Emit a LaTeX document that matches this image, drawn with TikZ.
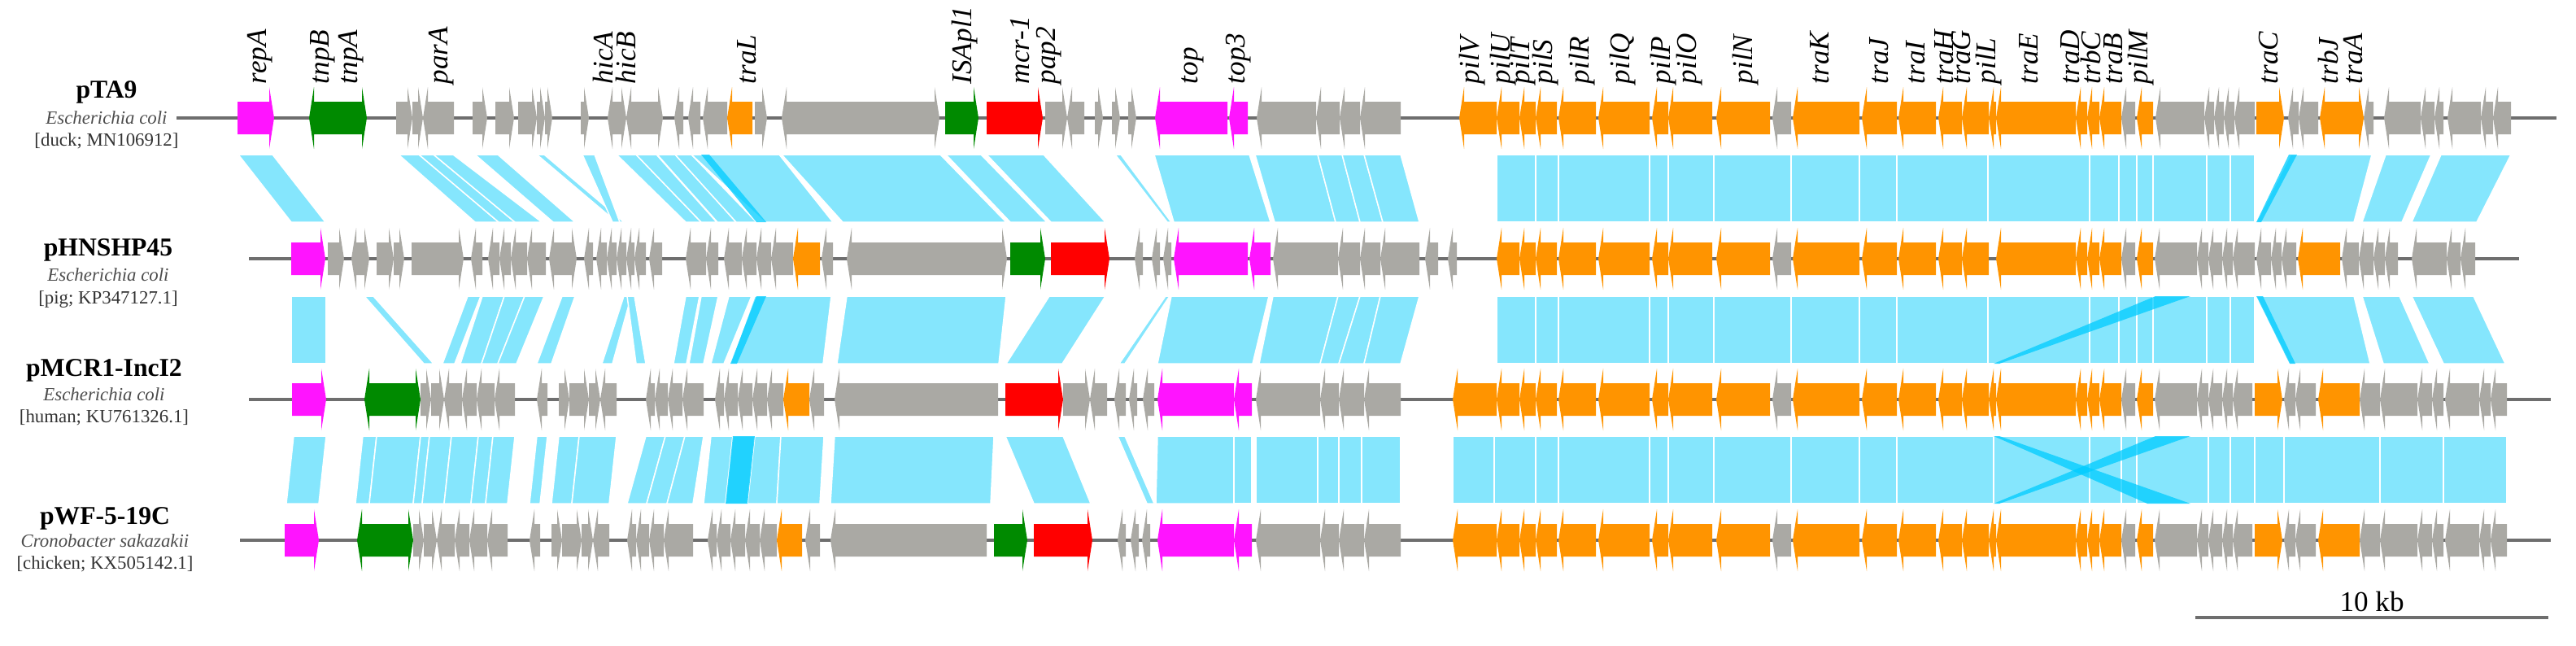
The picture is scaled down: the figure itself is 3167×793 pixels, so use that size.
\documentclass[tikz,border=0pt]{standalone}
\usepackage{fontspec}
\setmainfont{Liberation Serif}

\definecolor{genegray}{RGB}{170,169,164}
\definecolor{geneorange}{RGB}{255,148,0}
\definecolor{genepink}{RGB}{255,20,255}
\definecolor{genegreen}{RGB}{0,138,0}
\definecolor{genered}{RGB}{255,0,0}
\definecolor{bandblue}{RGB}{133,230,253}
\definecolor{banddark}{RGB}{0,204,255}
\definecolor{spinegray}{RGB}{110,110,110}

\newcommand{\gene}[5]{%
  \pgfmathsetmacro\gtip{#4>0 ? #3 : #2}%
  \pgfmathsetmacro\gbase{#4>0 ? #2 : #3}%
  \pgfmathsetmacro\ghead{\gtip-(#4)*6}%
  \fill[#5] (\gbase,#1-20) -- (\ghead,#1-20) -- (\ghead,#1-38) -- (\gtip,#1)
    -- (\ghead,#1+38) -- (\ghead,#1+20) -- (\gbase,#1+20) -- cycle;}
\newcommand{\band}[6]{\fill[simband] (#3,#1) -- (#4,#1) -- (#6,#2) -- (#5,#2) -- cycle;}
\newcommand{\invband}[6]{\fill[darkband] (#3,#1) -- (#4,#1) -- (#6,#2) -- (#5,#2) -- cycle;}

\newcommand{\tracluster}{1840/1868/-1/geneorange, 1868/1888/-1/geneorange, 1888/1914/-1/geneorange,
  1916/1962/-1/geneorange, 1965/2028/-1/geneorange, 2031/2051/-1/geneorange, 2051/2105/-1/geneorange,
  2110/2176/-1/geneorange, 2179/2202/-1/genegray, 2204/2286/-1/geneorange, 2289/2332/-1/geneorange,
  2334/2380/-1/geneorange, 2383/2412/-1/geneorange, 2412/2445/-1/geneorange, 2454/2552/-1/geneorange,
  2552/2566/-1/geneorange, 2566/2581/-1/geneorange, 2581/2608/-1/geneorange, 2608/2625/-1/genegray,
  2627/2647/-1/geneorange}
\newcommand{\righttail}{2649/2701/-1/genegray, 2701/2715/-1/genegray, 2715/2732/-1/genegray,
  2732/2745/-1/genegray, 2745/2769/-1/genegray, 2772/2806/1/geneorange, 2808/2822/-1/genegray,
  2822/2847/-1/genegray, 2850/2901/-1/geneorange, 2901/2926/-1/genegray, 2926/2972/-1/genegray,
  2972/2990/-1/genegray, 2990/3004/-1/genegray, 3006/3048/-1/genegray, 3048/3062/-1/genegray,
  3062/3082/-1/genegray, 1544/1623/-1/genegray, 1623/1646/-1/genegray, 1646/1677/-1/genegray,
  1677/1722/-1/genegray, 1786/1840/-1/geneorange, 2445/2454/-1/geneorange}
\newcommand{\straightcut}{1840/1888, 1888/1916, 1916/2028, 2028/2051, 2051/2107, 2107/2202, 2202/2286,
  2286/2332, 2332/2444, 2444/2569, 2569/2605, 2605/2627, 2627/2647, 2647/2713, 2713/2742, 2742/2772}

\begin{document}
\begin{tikzpicture}[x=0.1mm, y=-0.1mm,
  simband/.style={fill=bandblue, draw=white, line width=0.15mm},
  darkband/.style={fill=banddark, opacity=0.75},
  spine/.style={draw=spinegray, line width=0.4mm},
  genelabel/.style={rotate=90, anchor=west, inner sep=0pt, font=\fontsize{10}{12}\selectfont\itshape},
  plasname/.style={inner sep=0pt, font=\fontsize{9}{10}\selectfont\bfseries},
  plashost/.style={inner sep=0pt, text=black!70, font=\fontsize{6.5}{8}\selectfont\itshape},
  plasacc/.style={inner sep=0pt, text=black!80, font=\fontsize{6.5}{8}\selectfont}]
  \useasboundingbox (0,0) rectangle (3167,793);

  % pTA9 / pHNSHP45
  \foreach \a/\b/\p/\q in {293/335/358/400, 490/515/584/613, 515/533/613/633, 533/557/633/666,
    584/612/680/707, 660/669/758/767, 716/731/753/762, 758/782/843/862, 782/807/862/881,
    808/830/882/905, 830/850/905/930, 850/958/940/1024, 961/1156/1036/1237, 1163/1206/1242/1287,
    1213/1283/1292/1359, 1371/1378/1435/1440, 1419/1536/1443/1562, 1543/1620/1567/1642,
    1620/1650/1642/1672, 1650/1677/1672/1700, 1677/1722/1700/1745, 2816/2916/2774/2894,
    2933/2989/2904/2953, 3001/3087/2965/3045}
    \band{190}{273}{\a}{\b}{\p}{\q};
  \foreach \a/\b in \straightcut \band{190}{273}{\a}{\b}{\a}{\b};
  \invband{190}{273}{862}{872}{930}{942}
  \invband{190}{273}{2814}{2824}{2774}{2780}

  % pHNSHP45 / pMCR1-IncI2
  \foreach \a/\b/\p/\q in {358/401/358/401, 448/459/521/533, 575/591/544/559, 593/620/566/592,
    620/645/592/612, 645/669/612/635, 691/707/660/678, 767/776/740/753, 771/780/782/794,
    843/860/828/844, 862/883/847/865, 896/924/874/890, 928/1022/898/1012, 1041/1237/1029/1228,
    1290/1359/1237/1306, 1433/1438/1376/1383, 1440/1560/1423/1540, 1565/1645/1548/1623,
    1645/1672/1623/1646, 1672/1697/1646/1677, 1697/1745/1677/1722, 2774/2894/2815/2914,
    2904/2950/2930/2987, 2965/3041/3004/3080}
    \band{364}{447}{\a}{\b}{\p}{\q};
  \foreach \a/\b in \straightcut \band{364}{447}{\a}{\b}{\a}{\b};
  \invband{364}{447}{930}{942}{898}{906}
  \invband{364}{447}{2650}{2693}{2451}{2458}
  \invband{364}{447}{2774}{2782}{2815}{2822}

  % pMCR1-IncI2 / pWF-5-19C
  \foreach \a/\b/\p/\q in {361/401/352/392, 446/463/437/454, 463/517/454/508, 517/528/508/519,
    528/555/519/546, 555/588/546/579, 588/606/579/597, 606/633/597/624, 660/673/651/664,
    687/712/678/703, 712/758/703/749, 794/818/771/795, 818/842/795/820, 842/865/820/852,
    874/901/865/892, 901/928/892/919, 928/960/919/955, 960/1013/955/1008, 1026/1222/1021/1218,
    1236/1307/1271/1341, 1374/1383/1410/1419, 1423/1517/1421/1517, 1517/1539/1517/1539}
    \band{536}{619}{\a}{\b}{\p}{\q};
  \foreach \a/\b in {1544/1620, 1620/1646, 1646/1674, 1674/1722, 1786/1837, 1837/1888, 1888/1916,
    1916/2028, 2028/2051, 2051/2107, 2107/2202, 2202/2286, 2286/2332, 2332/2451, 2451/2569,
    2569/2608, 2608/2627, 2627/2715, 2715/2742, 2742/2772, 2772/2808, 2808/2926, 2926/3004, 3004/3082}
    \band{536}{619}{\a}{\b}{\a}{\b};
  \invband{536}{619}{901}{928}{892}{919}
  \invband{536}{619}{2451}{2458}{2640}{2693}
  \invband{536}{619}{2650}{2693}{2451}{2458}

  \coordinate (t1-l) at (217,145);  \coordinate (t1-r) at (3143,145);
  \coordinate (t2-l) at (306,318);  \coordinate (t2-r) at (3097,318);
  \coordinate (t3-l) at (306,491);  \coordinate (t3-r) at (3136,491);
  \coordinate (t4-l) at (295,664);  \coordinate (t4-r) at (3136,664);
  \foreach \t in {1,2,3,4} \draw[spine] (t\t-l) -- (t\t-r);

  \foreach \y in {145,318,491,664}
    \foreach \a/\b/\s/\c in \tracluster {\gene{\y}{\a}{\b}{\s}{\c}}

  \foreach \a/\b/\s/\c in {292/337/1/genepink, 380/398/-1/genegreen, 398/451/1/genegreen,
    487/507/1/genegray, 507/520/1/genegray, 520/558/-1/genegray, 581/599/1/genegray, 609/632/1/genegray,
    637/660/1/genegray, 660/670/1/genegray, 670/679/1/genegray, 714/724/1/genegray,
    747/757/-1/genegray, 757/770/1/genegray, 770/800/-1/genegray, 800/815/1/genegray,
    829/840/-1/genegray, 846/861/-1/genegray, 864/894/-1/genegray, 894/925/-1/geneorange,
    928/943/1/genegray, 961/1145/-1/genegray, 1145/1155/1/genegray, 1162/1203/1/genegreen,
    1213/1282/1/genered, 1285/1312/1/genegray, 1312/1333/-1/genegray, 1346/1356/1/genegray,
    1367/1377/1/genegray, 1387/1397/1/genegray, 1420/1509/-1/genepink, 1511/1534/-1/genepink,
    1545/1618/-1/genegray, 1618/1647/-1/genegray, 1647/1672/-1/genegray, 1672/1722/-1/genegray,
    1794/1840/-1/geneorange, 2445/2454/-1/geneorange, 2650/2710/-1/genegray, 2710/2722/-1/genegray,
    2722/2734/-1/genegray, 2734/2747/-1/genegray, 2747/2772/-1/genegray, 2774/2808/1/geneorange,
    2813/2826/-1/genegray, 2826/2850/-1/genegray, 2852/2897/-1/geneorange, 2897/2906/1/geneorange,
    2906/2918/-1/genegray, 2931/2976/-1/genegray, 2976/2993/-1/genegray, 2993/3004/-1/genegray,
    3009/3050/-1/genegray, 3050/3065/-1/genegray, 3065/3087/-1/genegray}
    {\gene{145}{\a}{\b}{\s}{\c}}

  \foreach \a/\b/\s/\c in {358/400/1/genepink, 403/423/1/genegray, 432/443/-1/genegray,
    443/454/1/genegray, 463/484/1/genegray, 484/497/1/genegray, 506/570/1/genegray,
    579/593/-1/genegray, 600/614/-1/genegray, 614/628/-1/genegray, 628/648/-1/genegray,
    648/671/-1/genegray, 675/688/-1/genegray, 688/709/1/genegray, 718/729/-1/genegray,
    733/746/-1/genegray, 746/758/-1/genegray, 758/770/-1/genegray, 770/780/-1/genegray,
    780/794/-1/genegray, 798/814/-1/genegray, 843/868/-1/genegray, 868/883/-1/genegray,
    890/912/-1/genegray, 912/930/-1/genegray, 930/948/-1/genegray, 948/975/-1/genegray,
    975/1008/-1/geneorange, 1010/1024/-1/genegray, 1041/1229/-1/genegray, 1229/1238/1/genegray,
    1242/1285/1/genegreen, 1292/1364/1/genered, 1395/1405/-1/genegray, 1416/1426/-1/genegray,
    1430/1440/-1/genegray, 1443/1534/-1/genepink, 1536/1562/-1/genepink, 1565/1645/-1/genegray,
    1645/1672/-1/genegray, 1672/1697/-1/genegray, 1697/1745/-1/genegray, 1752/1768/-1/genegray,
    1780/1791/-1/genegray, 2649/2701/-1/genegray, 2701/2715/-1/genegray, 2715/2732/-1/genegray,
    2732/2745/-1/genegray, 2745/2772/-1/genegray, 2774/2792/-1/genegray, 2792/2805/-1/genegray,
    2805/2823/-1/genegray, 2825/2877/-1/geneorange, 2879/2900/-1/genegray, 2900/2918/-1/genegray,
    2918/2932/-1/genegray, 2932/2948/-1/genegray, 2965/3008/-1/genegray, 3008/3025/-1/genegray,
    3025/3043/-1/genegray}
    {\gene{318}{\a}{\b}{\s}{\c}}

  \foreach \a/\b/\s/\c in {359/401/1/genepink, 448/463/-1/genegreen, 463/517/1/genegreen,
    517/530/1/genegray, 530/546/1/genegray, 546/568/-1/genegray, 568/586/-1/genegray,
    586/608/-1/genegray, 608/633/-1/genegray, 660/673/-1/genegray, 687/700/1/genegray,
    700/724/1/genegray, 724/738/1/genegray, 738/758/-1/genegray, 794/805/-1/genegray,
    805/821/-1/genegray, 821/839/-1/genegray, 839/865/-1/genegray, 879/890/-1/genegray,
    890/907/-1/genegray, 907/925/-1/genegray, 925/943/-1/genegray, 943/963/-1/genegray,
    963/995/-1/geneorange, 995/1013/-1/genegray, 1026/1227/-1/genegray, 1236/1307/1/genered,
    1307/1340/1/genegray, 1340/1361/-1/genegray, 1370/1384/-1/genegray, 1388/1398/-1/genegray,
    1405/1419/-1/genegray, 1423/1517/-1/genepink, 1517/1539/-1/genepink}
    {\gene{491}{\a}{\b}{\s}{\c}}

  \foreach \a/\b/\s/\c in {350/392/1/genepink, 439/454/-1/genegreen, 454/508/1/genegreen,
    508/521/1/genegray, 521/537/1/genegray, 537/559/-1/genegray, 559/577/-1/genegray,
    577/599/-1/genegray, 599/624/-1/genegray, 651/664/-1/genegray, 678/691/1/genegray,
    691/715/1/genegray, 715/729/1/genegray, 729/749/-1/genegray, 771/782/-1/genegray,
    782/798/-1/genegray, 798/816/-1/genegray, 816/852/-1/genegray, 870/881/-1/genegray,
    881/898/-1/genegray, 898/916/-1/genegray, 916/934/-1/genegray, 934/955/-1/genegray,
    955/986/-1/geneorange, 990/1008/-1/genegray, 1021/1213/-1/genegray, 1222/1263/1/genegreen,
    1271/1343/1/genered, 1374/1384/-1/genegray, 1390/1400/-1/genegray, 1404/1414/-1/genegray,
    1423/1517/-1/genepink, 1517/1539/-1/genepink}
    {\gene{664}{\a}{\b}{\s}{\c}}

  \foreach \y in {491,664}
    \foreach \a/\b/\s/\c in \righttail {\gene{\y}{\a}{\b}{\s}{\c}}

  \foreach \x/\g in {320/repA, 397/tnpB, 432/tnpA, 543/parA, 741/hicA, 769/hicB, 918/traL,
    1186/ISApl1, 1254/mcr-1, 1290/pap2, 1466/top, 1523/top3, 1810/pilV, 1848/pilU, 1872/pilT,
    1900/pilS, 1945/pilR, 1995/pilQ, 2045/pilP, 2077/pilO, 2146/pilN, 2237/traK, 2310/traJ,
    2355/traI, 2390/traH, 2411/traG, 2445/pilL, 2494/traE, 2545/traD, 2570/trbC, 2598/traB,
    2632/pilM, 2789/traC, 2862/trbJ, 2893/traA}
    \node[genelabel] (lab-\g) at (\x,104) {\g};

  \node[plasname] (pTA9) at (131,113) {pTA9};
  \node[plashost] (pTA9-host) at (131,145) {Escherichia coli};
  \node[plasacc] (pTA9-acc) at (131,173) {[duck; MN106912]};
  \node[plasname] (pHNSHP45) at (133,307) {pHNSHP45};
  \node[plashost] (pHNSHP45-host) at (133,338) {Escherichia coli};
  \node[plasacc] (pHNSHP45-acc) at (133,368) {[pig; KP347127.1]};
  \node[plasname] (pMCR1) at (128,455) {pMCR1-IncI2};
  \node[plashost] (pMCR1-host) at (128,485) {Escherichia coli};
  \node[plasacc] (pMCR1-acc) at (128,513) {[human; KU761326.1]};
  \node[plasname] (pWF) at (129,637) {pWF-5-19C};
  \node[plashost] (pWF-host) at (129,665) {Cronobacter sakazakii};
  \node[plasacc] (pWF-acc) at (129,693) {[chicken; KX505142.1]};

  \coordinate (bar-l) at (2699,759);
  \coordinate (bar-r) at (3133,759);
  \draw[spine] (bar-l) -- (bar-r) node[midway, above=0.5mm, inner sep=0pt, font=\fontsize{10}{12}\selectfont] (bar-lab) {10 kb};
\end{tikzpicture}
\end{document}
